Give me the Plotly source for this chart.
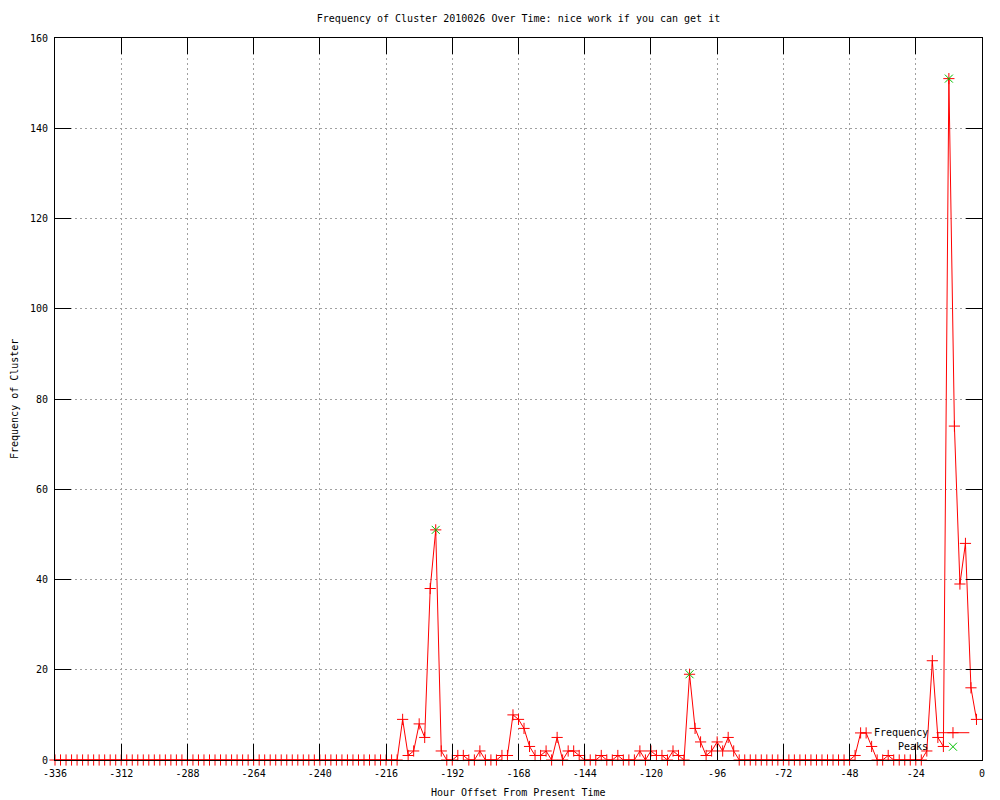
import plotly.graph_objects as go

# ---------------- data ----------------
hours = list(range(-336, 0, 2))  # hourly offsets, sampled every 2 hours

frequency = [
    # -336 .. -212
    0, 0, 0, 0, 0, 0, 0, 0, 0, 0,
    0, 0, 0, 0, 0, 0, 0, 0, 0, 0,
    0, 0, 0, 0, 0, 0, 0, 0, 0, 0,
    0, 0, 0, 0, 0, 0, 0, 0, 0, 0,
    0, 0, 0, 0, 0, 0, 0, 0, 0, 0,
    0, 0, 0, 0, 0, 0, 0, 0, 0, 0,
    0, 0, 0,
    # -210 .. -88
    9, 1, 2, 8, 5, 38, 51, 2, 0, 0,
    1, 1, 0, 0, 2, 0, 0, 0, 1, 1,
    10, 9, 7, 3, 1, 1, 2, 0, 5, 0,
    2, 2, 1, 0, 0, 0, 1, 0, 0, 1,
    0, 0, 0, 2, 0, 2, 1, 1, 0, 2,
    1, 0, 19, 7, 4, 1, 2, 4, 2, 5,
    2, 0,
    # -86 .. -48
    0, 0, 0, 0, 0, 0, 0, 0, 0, 0,
    0, 0, 0, 0, 0, 0, 0, 0, 0, 0,
    # -46 .. -2
    1, 6, 6, 3, 0, 0, 1, 0, 0, 0,
    0, 0, 0, 2, 22, 5, 3, 151, 74, 39,
    48, 16, 9,
]

peak_hours = [-198, -106, -12]
peak_values = [51, 19, 151]

x_tick_values = [-336, -312, -288, -264, -240, -216, -192, -168, -144,
                 -120, -96, -72, -48, -24, 0]
x_tick_labels = ["-336", "-312", "-288", "-264", "-240", "-216", "-192", "-168",
                 "-144", "-120", "-96", "-72", "-48", "-24", "0"]
y_tick_values = [0, 20, 40, 60, 80, 100, 120, 140, 160]
y_tick_labels = ["0", "20", "40", "60", "80", "100", "120", "140", "160"]

title_text = "Frequency of Cluster 2010026 Over Time: nice work if you can get it"
x_title = "Hour Offset From Present Time"
y_title = "Frequency of Cluster"
legend_names = ["Frequency", "Peaks"]

# ---------------- style ----------------
FONT = "DejaVu Sans Mono"
RED = "#ff0000"
GREEN = "#00c000"

fig = go.Figure()

fig.add_trace(go.Scatter(
    x=hours, y=frequency, mode="lines+markers",
    line=dict(color=RED, width=1),
    marker=dict(symbol="cross-thin-open", size=8, color=RED,
                line=dict(color=RED, width=1)),
    cliponaxis=False, name=legend_names[0], showlegend=False,
))

fig.add_trace(go.Scatter(
    x=peak_hours, y=peak_values, mode="markers",
    marker=dict(symbol="x-thin-open", size=8, color=GREEN,
                line=dict(color=GREEN, width=1)),
    cliponaxis=False, name=legend_names[1], showlegend=False,
))

# legend samples on an overlay axis spanning the plot area (0..1)
fig.add_trace(go.Scatter(
    x=[0.951, 0.9863], y=[0.0378, 0.0378], mode="lines",
    line=dict(color=RED, width=1), xaxis="x2", yaxis="y2",
    showlegend=False, hoverinfo="skip",
))
fig.add_trace(go.Scatter(
    x=[0.9687], y=[0.0378], mode="markers",
    marker=dict(symbol="cross-thin-open", size=8, color=RED,
                line=dict(color=RED, width=1)),
    xaxis="x2", yaxis="y2", showlegend=False, hoverinfo="skip",
))
fig.add_trace(go.Scatter(
    x=[0.9687], y=[0.0184], mode="markers",
    marker=dict(symbol="x-thin-open", size=8, color=GREEN,
                line=dict(color=GREEN, width=1)),
    xaxis="x2", yaxis="y2", showlegend=False, hoverinfo="skip",
))

axis_common = dict(
    showline=True, linecolor="black", linewidth=1, mirror="allticks",
    ticks="inside", ticklen=16, tickcolor="black", tickwidth=1,
    showgrid=True, gridcolor="#a0a0a0", gridwidth=1, griddash="2px,3px",
    zeroline=False, layer="above traces",
    tickfont=dict(family=FONT, size=10, color="black"),
)

fig.update_layout(
    width=1000, height=800,
    margin=dict(l=55, r=18, t=38, b=40),
    paper_bgcolor="white", plot_bgcolor="white",
    font=dict(family=FONT, size=10, color="black"),
    showlegend=False,
    title=dict(text=title_text, x=0.5, xref="paper", xanchor="center",
               y=1 - 18 / 800, yref="container", yanchor="middle",
               font=dict(family=FONT, size=10, color="black")),
    xaxis=dict(range=[-336, 0], tickmode="array", tickvals=x_tick_values,
               ticktext=x_tick_labels, ticklabelstandoff=4, **axis_common),
    yaxis=dict(range=[0, 160], tickmode="array", tickvals=y_tick_values,
               ticktext=y_tick_labels, ticklabelstandoff=4, **axis_common),
    xaxis2=dict(overlaying="x", range=[0, 1], visible=False),
    yaxis2=dict(overlaying="y", range=[0, 1], visible=False),
    annotations=[
        dict(text=x_title, xref="paper", yref="paper", x=0.5, y=-0.0453,
             xanchor="center", yanchor="middle", showarrow=False,
             font=dict(family=FONT, size=10, color="black")),
        dict(text=y_title, xref="paper", yref="paper", x=-0.0442, y=0.5,
             xanchor="center", yanchor="middle", textangle=-90, showarrow=False,
             font=dict(family=FONT, size=10, color="black")),
        dict(text=legend_names[0], xref="paper", yref="paper", x=0.9439, y=0.0378,
             xanchor="right", yanchor="middle", showarrow=False,
             font=dict(family=FONT, size=10, color="black")),
        dict(text=legend_names[1], xref="paper", yref="paper", x=0.9439, y=0.0184,
             xanchor="right", yanchor="middle", showarrow=False,
             font=dict(family=FONT, size=10, color="black")),
    ],
)

fig.write_html("out.html",
               config={"displayModeBar": False},
               post_script="document.body.style.margin='0';"
                           "document.body.style.overflow='hidden';")
